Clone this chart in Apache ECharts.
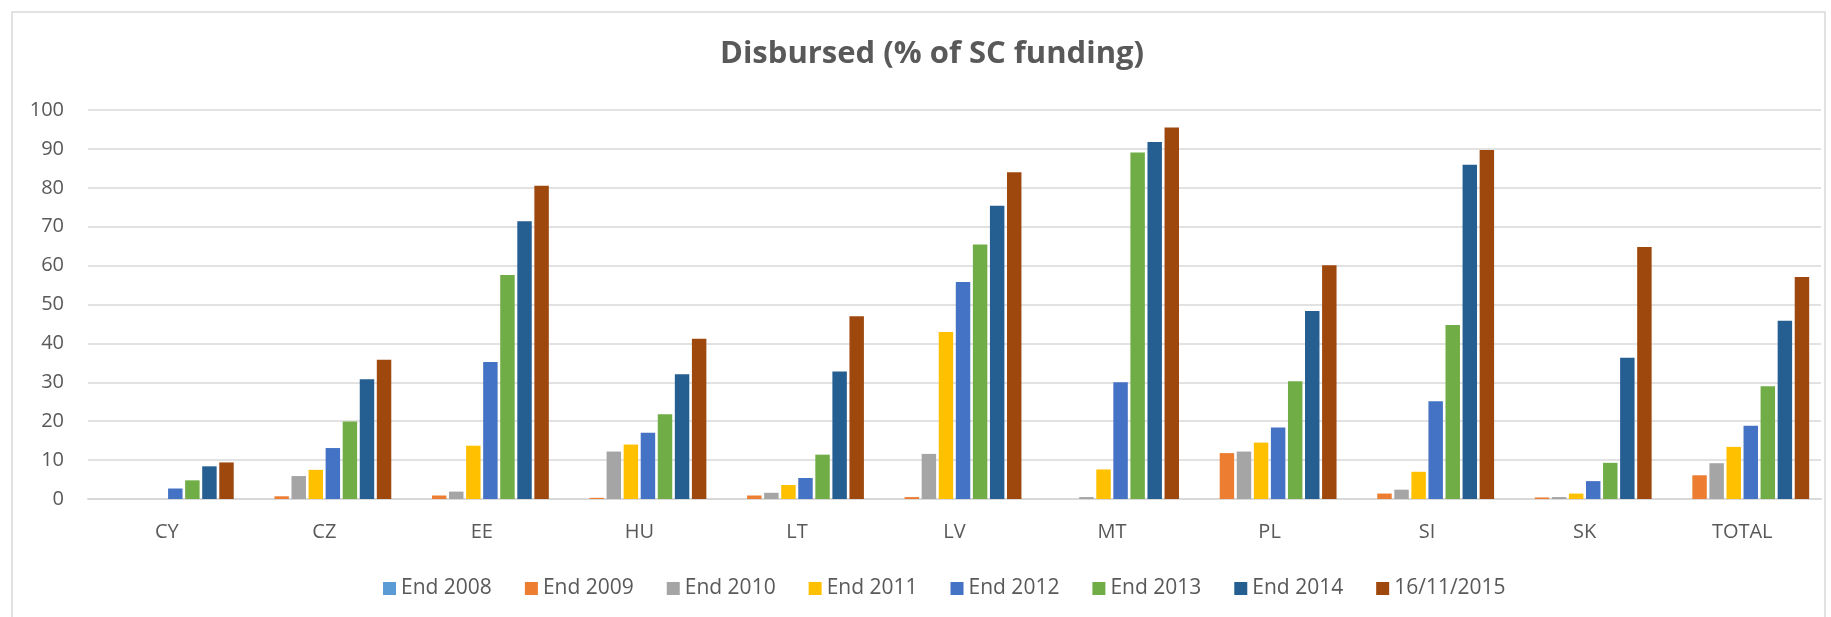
<!DOCTYPE html>
<html>
<head>
    <title>Disbursed</title>
    <script src="https://cdn.jsdelivr.net/npm/echarts@6/dist/echarts.min.js"></script>
    <meta charset="utf-8">
    <style>
        html, body { margin: 0; padding: 0; background: #fff; }
        #chart { width: 1831px; height: 617px; }
    </style>
</head>
<body>
<div id="chart"></div>
<script type="text/javascript">
    var countries = ['CY', 'CZ', 'EE', 'HU', 'LT', 'LV', 'MT', 'PL', 'SI', 'SK', 'TOTAL'];
    var yTicks = [0, 10, 20, 30, 40, 50, 60, 70, 80, 90, 100];

    var end2008 = [0, 0, 0, 0, 0, 0, 0, 0, 0, 0, 0];
    var end2009 = [0, 0.7, 0.9, 0.3, 0.9, 0.5, 0, 11.8, 1.4, 0.4, 6.1];
    var end2010 = [0, 5.9, 1.9, 12.2, 1.6, 11.6, 0.5, 12.2, 2.4, 0.5, 9.2];
    var end2011 = [0, 7.5, 13.7, 14.0, 3.6, 42.9, 7.6, 14.5, 7.0, 1.4, 13.4];
    var end2012 = [2.7, 13.1, 35.2, 17.0, 5.4, 55.8, 30.0, 18.4, 25.1, 4.6, 18.8];
    var end2013 = [4.8, 19.9, 57.6, 21.8, 11.4, 65.4, 89.1, 30.3, 44.7, 9.3, 29.0];
    var end2014 = [8.4, 30.8, 71.4, 32.1, 32.8, 75.4, 91.8, 48.3, 85.9, 36.3, 45.8];
    var nov2015 = [9.4, 35.8, 80.5, 41.2, 47.0, 84.0, 95.5, 60.1, 89.7, 64.8, 57.1];

    var seriesNames = ['End 2008', 'End 2009', 'End 2010', 'End 2011', 'End 2012', 'End 2013', 'End 2014', '16/11/2015'];
    var seriesData = [end2008, end2009, end2010, end2011, end2012, end2013, end2014, nov2015];
    var colors = ['#5B9BD5', '#ED7D31', '#A5A5A5', '#FFC000', '#4472C4', '#70AD47', '#255E91', '#9E480E'];

    var textColor = '#595959';
    var font = '"Open Sans", sans-serif';

    var myChart = echarts.init(document.getElementById('chart'));

    var series = seriesNames.map(function (name, i) {
        return {
            name: name,
            type: 'bar',
            data: seriesData[i],
            barGap: '18%',
            barCategoryGap: '15%',
            itemStyle: { color: colors[i] }
        };
    });

    option = {
        animation: false,
        color: colors,
        textStyle: { fontFamily: font },
        title: {
            text: 'Disbursed (% of SC funding)',
            left: 927,
            top: 34,
            textAlign: 'center',
            textStyle: { fontFamily: font, fontSize: 31, fontWeight: 'bold', color: textColor }
        },
        graphic: [{
            type: 'rect',
            silent: true,
            shape: { x: 12, y: 12, width: 1813, height: 640 },
            style: { fill: 'none', stroke: '#D9D9D9', lineWidth: 1.5 }
        }],
        legend: {
            data: seriesNames,
            left: 378,
            top: 573,
            itemWidth: 13,
            itemHeight: 13,
            itemGap: 33,
            icon: 'rect',
            textStyle: { fontFamily: font, fontSize: 21, color: textColor, padding: [0, 0, 0, 0] }
        },
        grid: { left: 88, right: 10, top: 110, bottom: 118, containLabel: false },
        xAxis: {
            type: 'category',
            data: countries,
            axisLine: { lineStyle: { color: '#D9D9D9', width: 2 } },
            axisTick: { show: false },
            axisLabel: { color: textColor, fontSize: 20, fontFamily: font, margin: 23 }
        },
        yAxis: {
            type: 'value',
            min: yTicks[0],
            max: yTicks[yTicks.length - 1],
            interval: 10,
            axisLine: { show: false },
            axisTick: { show: false },
            splitLine: { lineStyle: { color: '#D9D9D9', width: 1.5 } },
            axisLabel: { color: textColor, fontSize: 20, fontFamily: font, margin: 24 }
        },
        series: series
    };

    myChart.setOption(option);
</script>
</body>
</html>
